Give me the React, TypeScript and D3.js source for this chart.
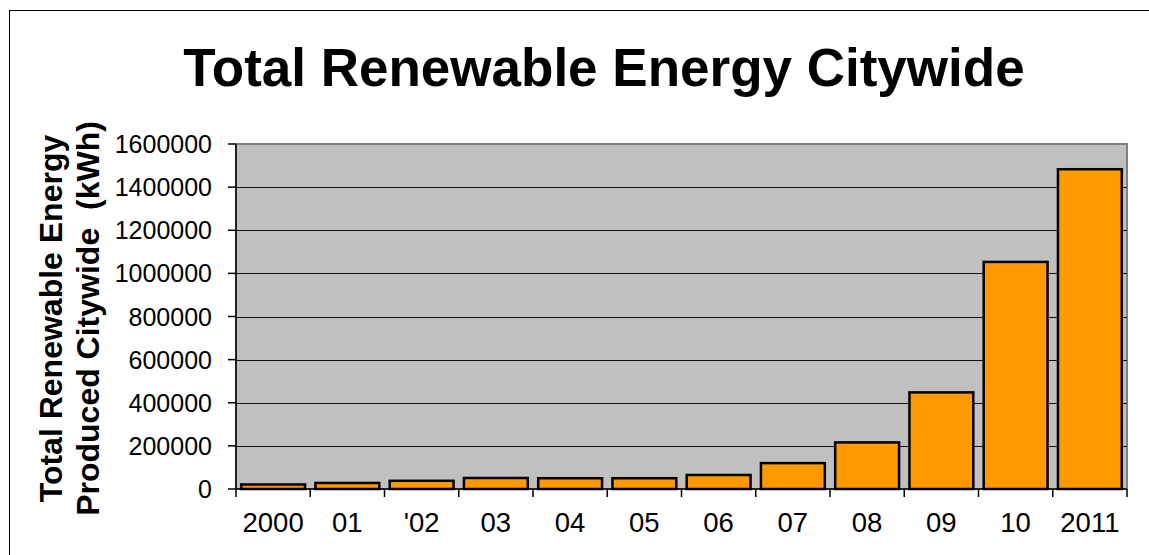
import React from "react";
import * as d3 from "d3";

const categories = ["2000", "01", "'02", "03", "04", "05", "06", "07", "08", "09", "10", "2011"];
const values = [21000, 28000, 38000, 51000, 50000, 50000, 65000, 120000, 216000, 448000, 1053000, 1483000];
const yTicks = [0, 200000, 400000, 600000, 800000, 1000000, 1200000, 1400000, 1600000];
const title = "Total Renewable Energy Citywide";
const yTitleLines = ["Total Renewable Energy", "Produced Citywide  (kWh)"];

const W = 1149;
const H = 555;
const plot = { left: 236, right: 1127, top: 144, bottom: 489 };

export default function App() {
  const x = d3
    .scaleBand<string>()
    .domain(categories)
    .range([plot.left, plot.right])
    .paddingInner(0.14)
    .paddingOuter(0.07);
  const y = d3.scaleLinear().domain([0, 1600000]).range([plot.bottom, plot.top]);
  const step = x.step();
  const font = "Arial, 'Liberation Sans', sans-serif";
  const yMid = 318.5;

  return (
    <svg
      width={W}
      height={H}
      style={{ position: "absolute", left: 0, top: 0, background: "#fff" }}
      fontFamily={font}
    >
      <rect x={9.5} y={10.5} width={1300} height={700} fill="#fff" stroke="#000" strokeWidth={1} />
      <text x={604} y={86} textAnchor="middle" fontSize={53} fontWeight="bold" fill="#000">
        {title}
      </text>
      {/* plot area */}
      <rect
        x={plot.left}
        y={plot.top}
        width={plot.right - plot.left}
        height={plot.bottom - plot.top}
        fill="#C0C0C0"
        stroke="#808080"
        strokeWidth={2}
      />
      {yTicks
        .filter((t) => t > 0 && t < 1600000)
        .map((t) => (
          <line
            key={"g" + t}
            x1={plot.left}
            x2={plot.right}
            y1={Math.round(y(t)) + 0.5}
            y2={Math.round(y(t)) + 0.5}
            stroke="#111"
            strokeWidth={1.2}
          />
        ))}
      {categories.map((c, i) => (
        <rect
          key={c}
          x={x(c)}
          y={y(values[i])}
          width={x.bandwidth()}
          height={plot.bottom - y(values[i])}
          fill="#FF9900"
          stroke="#000"
          strokeWidth={2.5}
        />
      ))}
      {/* axes */}
      <line x1={plot.left} x2={plot.left} y1={plot.top} y2={plot.bottom + 8} stroke="#000" strokeWidth={1.5} />
      <line x1={plot.left} x2={plot.right} y1={plot.bottom} y2={plot.bottom} stroke="#000" strokeWidth={1.5} />
      {yTicks.map((t) => (
        <g key={"t" + t}>
          <line x1={plot.left - 8} x2={plot.left} y1={y(t)} y2={y(t)} stroke="#000" strokeWidth={1.5} />
          <text x={212} y={y(t) + 9} textAnchor="end" fontSize={25} fill="#000">
            {t}
          </text>
        </g>
      ))}
      {categories.map((c, i) => (
        <line
          key={"xt" + c}
          x1={plot.left + step * (i + 1)}
          x2={plot.left + step * (i + 1)}
          y1={plot.bottom}
          y2={plot.bottom + 8}
          stroke="#000"
          strokeWidth={1.5}
        />
      ))}
      {categories.map((c) => (
        <text
          key={"xl" + c}
          x={(x(c) as number) + x.bandwidth() / 2}
          y={532}
          textAnchor="middle"
          fontSize={27.5}
          fill="#000"
        >
          {c}
        </text>
      ))}
      <g transform={`translate(0, ${yMid})`}>
        <text
          transform="translate(62,0) rotate(-90)"
          textAnchor="middle"
          fontSize={32}
          fontWeight="bold"
          fill="#000"
          style={{ whiteSpace: "pre" }}
        >
          {yTitleLines[0]}
        </text>
        <text
          transform="translate(99,0) rotate(-90)"
          textAnchor="middle"
          fontSize={32}
          fontWeight="bold"
          fill="#000"
          style={{ whiteSpace: "pre" }}
        >
          {yTitleLines[1]}
        </text>
      </g>
    </svg>
  );
}
